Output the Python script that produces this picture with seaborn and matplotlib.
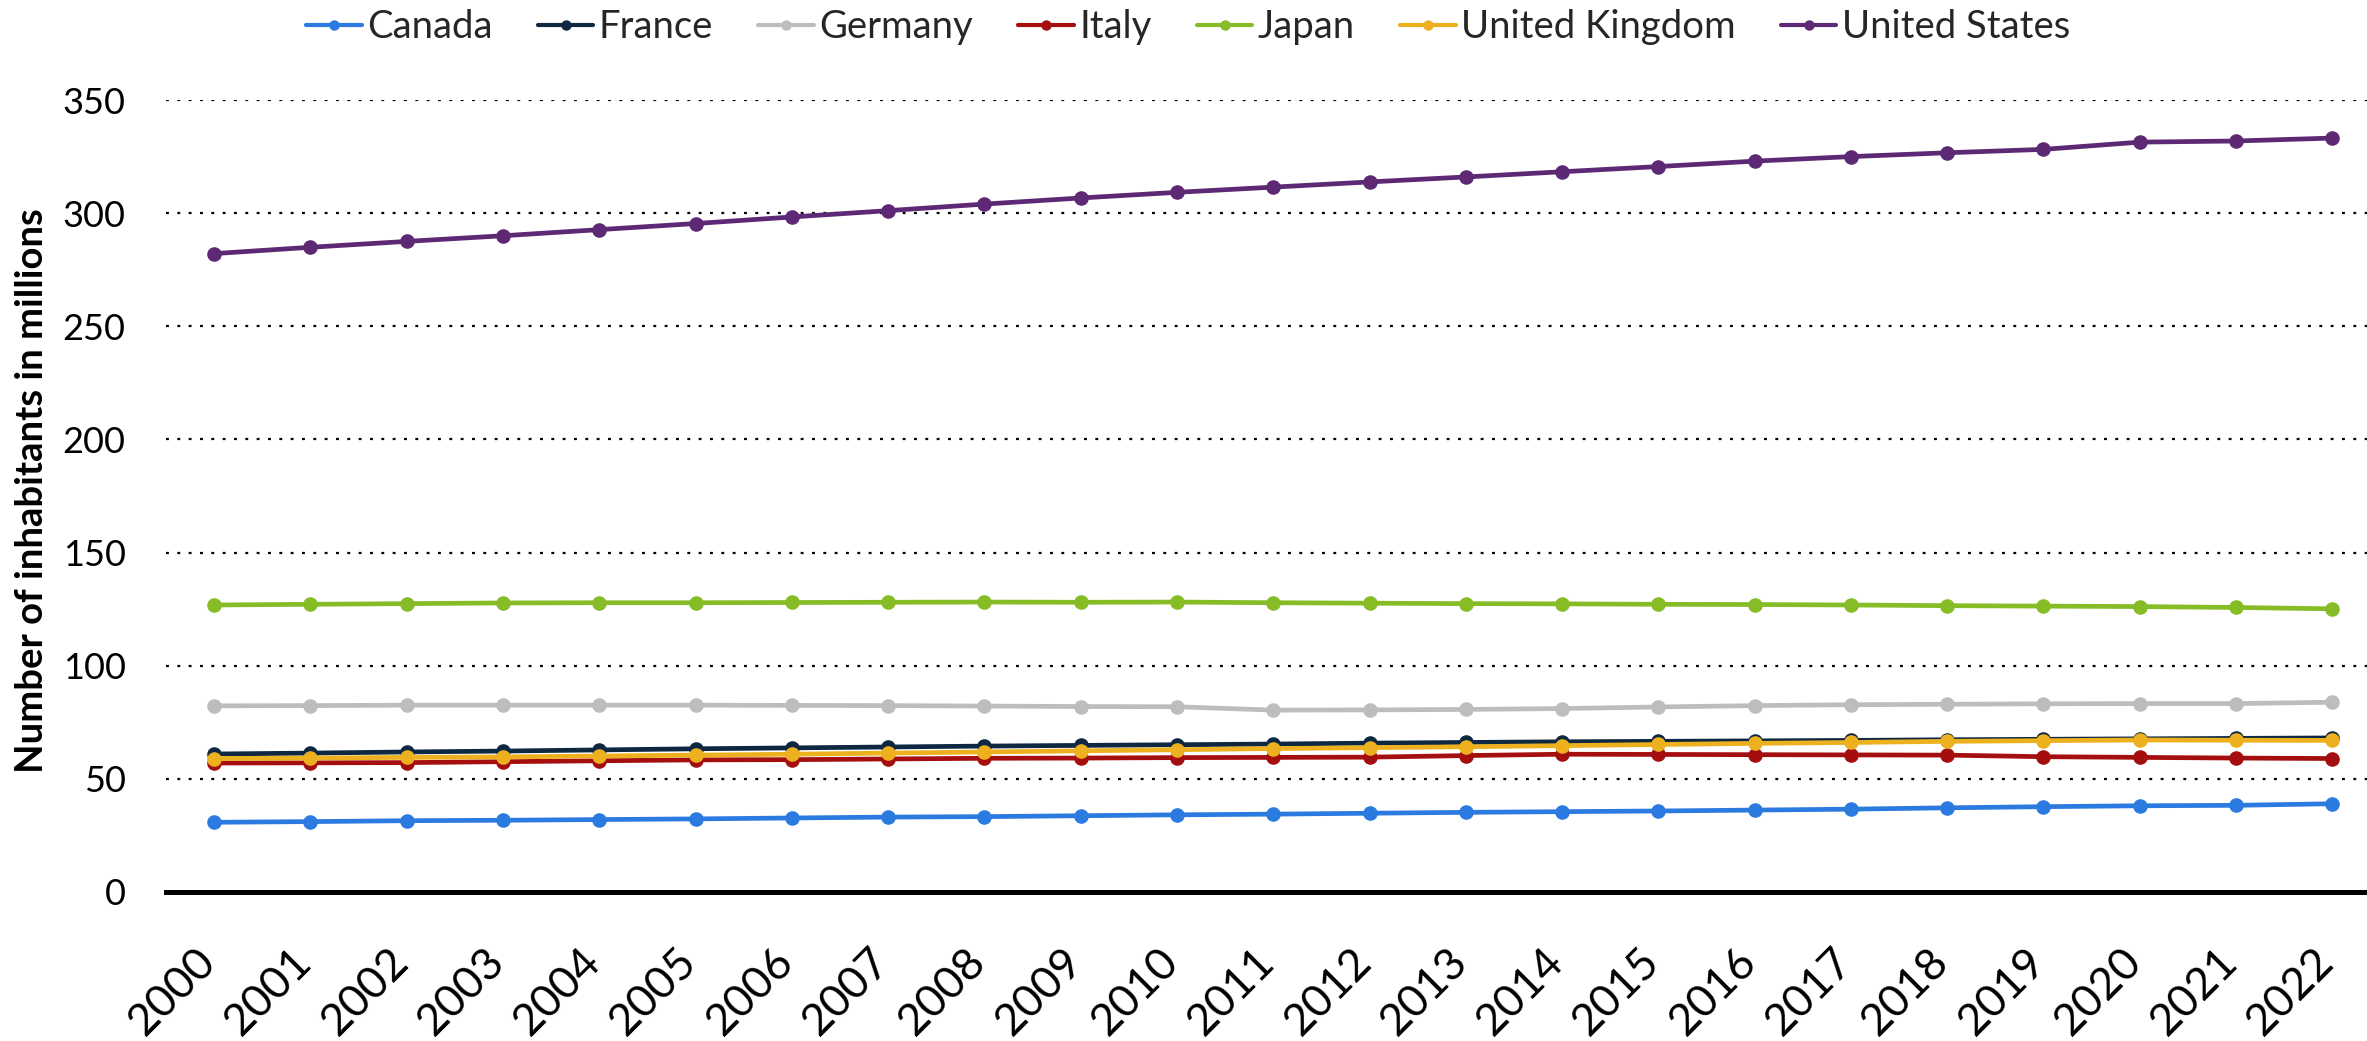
import numpy as np
import pandas as pd
import matplotlib
matplotlib.use("Agg")
import matplotlib.pyplot as plt
import matplotlib.transforms as mtransforms
import seaborn as sns

years = list(range(2000, 2023))
countries = ["Canada", "France", "Germany", "Italy", "Japan", "United Kingdom", "United States"]

canada = [30.7, 31.0, 31.4, 31.6, 31.9, 32.2, 32.6, 33.0, 33.2, 33.6, 34.0, 34.3,
          34.7, 35.1, 35.4, 35.7, 36.1, 36.5, 37.1, 37.6, 38.0, 38.2, 38.9]
france = [60.9, 61.3, 61.8, 62.2, 62.7, 63.2, 63.6, 64.0, 64.4, 64.7, 65.0, 65.3,
          65.7, 66.0, 66.3, 66.5, 66.7, 66.9, 67.2, 67.4, 67.6, 67.8, 68.0]
germany = [82.2, 82.3, 82.5, 82.5, 82.5, 82.5, 82.4, 82.3, 82.1, 81.9, 81.8, 80.3,
           80.4, 80.6, 81.0, 81.7, 82.3, 82.7, 82.9, 83.1, 83.2, 83.2, 83.8]
italy = [56.9, 57.0, 57.1, 57.5, 57.9, 58.3, 58.4, 58.7, 59.0, 59.1, 59.3, 59.4,
         59.5, 60.2, 60.8, 60.7, 60.6, 60.5, 60.4, 59.7, 59.4, 59.1, 58.9]
japan = [126.8, 127.1, 127.4, 127.7, 127.8, 127.8, 127.9, 128.0, 128.1, 128.0, 128.1, 127.8,
         127.6, 127.4, 127.3, 127.1, 127.0, 126.8, 126.5, 126.3, 126.1, 125.7, 125.1]
uk = [58.9, 59.1, 59.4, 59.6, 60.0, 60.4, 60.8, 61.3, 61.8, 62.3, 62.8, 63.3,
      63.7, 64.1, 64.6, 65.1, 65.6, 66.0, 66.5, 66.8, 67.1, 67.0, 66.9]
usa = [282.2, 285.0, 287.6, 290.1, 292.8, 295.5, 298.4, 301.2, 304.1, 306.8, 309.3, 311.6,
       313.9, 316.1, 318.4, 320.7, 323.1, 325.1, 326.8, 328.3, 331.5, 332.0, 333.3]

series = [canada, france, germany, italy, japan, uk, usa]
colors = ["#2B7AE0", "#0E2841", "#BDBDBD", "#A50E0E", "#86BC25", "#EDB120", "#5D2974"]
y_ticks = [0, 50, 100, 150, 200, 250, 300, 350]
y_label = "Number of inhabitants in millions"

df = pd.DataFrame({
    "year": np.tile(years, len(countries)),
    "country": np.repeat(countries, len(years)),
    "value": np.concatenate(series),
})

sns.set_style("white")
plt.rcParams["font.family"] = ["Lato", "DejaVu Sans"]

fig = plt.figure(figsize=(23.67, 10.41), dpi=100)
ax = fig.add_axes([166 / 2367, (1041 - 891.7) / 1041, (2367 - 166) / 2367, (891.7 - 100.3) / 1041])

sns.lineplot(data=df, x="year", y="value", hue="country", hue_order=countries,
             palette=colors, marker="o", markersize=10.5, markeredgewidth=0,
             linewidth=3.4, ax=ax, legend=False, zorder=3)

ax.set_xlim(1999.5, 2022.36)
ax.set_ylim(0, 350)
ax.set_yticks(y_ticks)
ax.set_xticks(years)
ax.set_xticklabels([str(y) for y in years])

for s in ["top", "right", "left"]:
    ax.spines[s].set_visible(False)
ax.spines["bottom"].set_linewidth(3.6)
ax.spines["bottom"].set_color("black")
ax.spines["bottom"].set_zorder(4)

ax.set_axisbelow(True)
for v in y_ticks[1:]:
    ax.axhline(v, color="black", lw=1.6, ls=(0, (1.3, 3.8)), zorder=1)

ax.tick_params(axis="y", length=0, labelsize=26, pad=29, labelcolor="black")
ax.tick_params(axis="x", length=0, labelsize=32, pad=52, labelcolor="black")
offset = mtransforms.ScaledTranslation(4 / 100, 0, fig.dpi_scale_trans)
for lab in ax.get_xticklabels():
    lab.set_rotation(45)
    lab.set_ha("right")
    lab.set_va("baseline")
    lab.set_rotation_mode("anchor")
    lab.set_transform(lab.get_transform() + offset)

ax.set_xlabel("")
ax.set_ylabel(y_label, fontsize=27.5, fontweight="bold", color="black")
ax.yaxis.set_label_coords(-0.053, 0.507)

handles = [plt.Line2D([0], [0], color=c, lw=3.0, marker="o", markersize=7.5, markeredgewidth=0)
           for c in colors]
fig.legend(handles, countries, loc="center", bbox_to_anchor=(0.502, 1 - 27 / 1041),
           ncol=7, frameon=False, fontsize=27.5, handlelength=1.45, handletextpad=0.15,
           columnspacing=1.18)

fig.savefig("out.png", dpi=100)
